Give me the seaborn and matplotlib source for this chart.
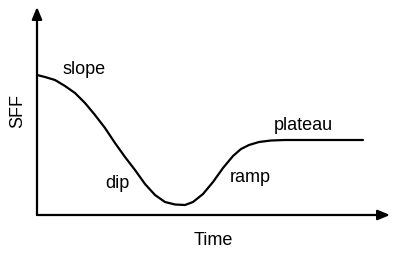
import matplotlib
matplotlib.use("Agg")
import matplotlib.pyplot as plt
import seaborn as sns
import pandas as pd

# Curve (time, SFF) in arbitrary units
time = [0, 8, 18, 28, 38, 48, 58, 68, 78, 88, 98, 108, 118, 128, 138, 148,
        156, 166, 176, 186, 196, 204, 212, 222, 234, 248, 326]
sff = [140, 138, 135, 129, 122, 112, 100, 87, 72, 58, 45, 31, 20, 13, 10.5, 10,
       13, 21, 33, 47, 59, 66, 70, 73, 74.5, 75, 75]

labels = ["slope", "dip", "ramp", "plateau"]
label_x = [47, 80, 213, 266]
label_y = [145, 32, 37, 90]

sns.set_theme(style="white")
plt.rcParams["font.family"] = ["Liberation Sans", "DejaVu Sans"]

fig = plt.figure(figsize=(4.0, 2.64), dpi=100)
ax = fig.add_axes([37/400, 1-215/264, (390-37)/400, (215-7)/264])
df = pd.DataFrame({"Time": time, "SFF": sff})
sns.lineplot(data=df, x="Time", y="SFF", ax=ax, color="black", linewidth=1.6, sort=False)
ax.lines[0].set_solid_joinstyle("round")

ax.set_xlim(0, 353)
ax.set_ylim(0, 208)
for s in ax.spines.values():
    s.set_visible(False)
ax.set_xticks([])
ax.set_yticks([])

# axis arrows
ax.annotate("", xy=(1, 0), xytext=(0, 0), xycoords="axes fraction",
            arrowprops=dict(arrowstyle="-|>,head_length=0.6,head_width=0.25", color="black", lw=1.6,
                            shrinkA=0, shrinkB=0))
ax.annotate("", xy=(0, 1), xytext=(0, 0), xycoords="axes fraction",
            arrowprops=dict(arrowstyle="-|>,head_length=0.6,head_width=0.25", color="black", lw=1.6,
                            shrinkA=0, shrinkB=0))

for t, x, y in zip(labels, label_x, label_y):
    ax.text(x, y, t, ha="center", va="center", fontsize=13, color="black")

ax.set_xlabel("Time", fontsize=13, color="black", labelpad=12)
ax.set_ylabel("SFF", fontsize=13, color="black", labelpad=8)

fig.savefig("out.png", dpi=100, facecolor="white")
